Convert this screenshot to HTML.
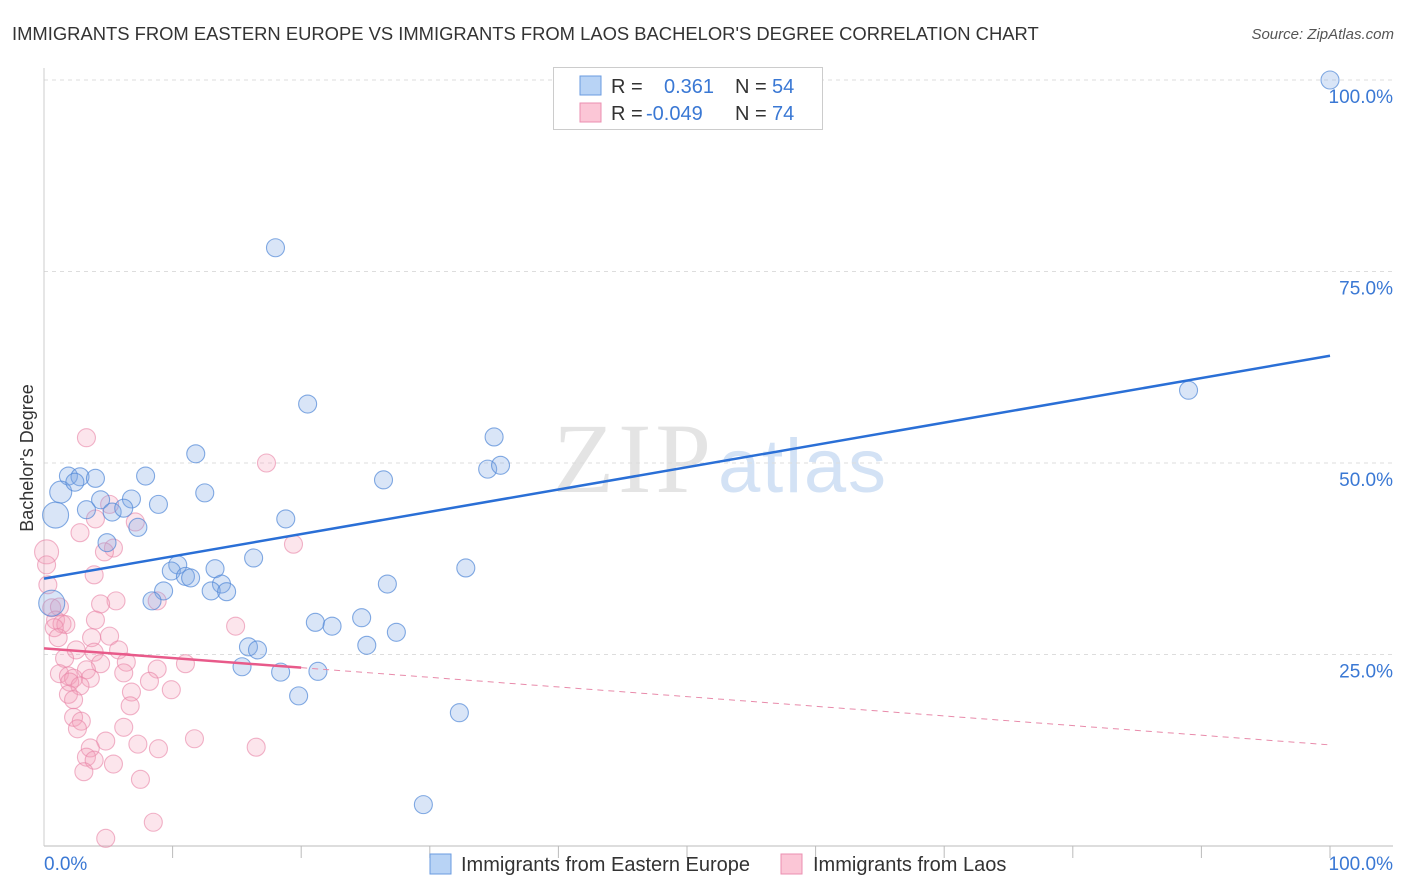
<!DOCTYPE html>
<html><head><meta charset="utf-8"><style>
body{margin:0;background:#fff;font-family:"Liberation Sans",sans-serif;}
#wrap{position:relative;width:1406px;height:892px;overflow:hidden;}
</style></head><body>
<div id="wrap">
<svg id="svg" width="1406" height="892" xmlns="http://www.w3.org/2000/svg">
<text x="12" y="40" font-size="18.4" fill="#333">IMMIGRANTS FROM EASTERN EUROPE VS IMMIGRANTS FROM LAOS BACHELOR'S DEGREE CORRELATION CHART</text>
<text x="1394" y="39" font-size="15" fill="#555" font-style="italic" text-anchor="end">Source: ZipAtlas.com</text>
<text x="33" y="458" font-size="18" fill="#333" text-anchor="middle" transform="rotate(-90 33 458)">Bachelor's Degree</text>
<text x="553" y="492" font-size="100" fill="#e4e4e4" font-family="Liberation Serif" textLength="158">ZIP</text>
<text x="718" y="492" font-size="76" fill="#d3e2f5" textLength="168">atlas</text>
<g id="grid"></g><g id="axes"></g><g id="pts"></g><g id="lines"></g>
<g>
<rect x="553.5" y="67.5" width="269" height="62" fill="#fff" stroke="#ccc"/>
<rect x="580" y="76" width="21" height="19" fill="#b8d3f5" stroke="#6a9be0"/>
<rect x="580" y="103" width="21" height="19" fill="#fbc6d6" stroke="#eb8fb0"/>
<text y="93" font-size="20"><tspan x="611" fill="#333">R =</tspan><tspan x="664" fill="#3a78d4">0.361</tspan><tspan x="735" fill="#333">N =</tspan><tspan x="772" fill="#3a78d4">54</tspan></text>
<text y="120" font-size="20"><tspan x="611" fill="#333">R =</tspan><tspan x="646" fill="#3a78d4">-0.049</tspan><tspan x="735" fill="#333">N =</tspan><tspan x="772" fill="#3a78d4">74</tspan></text>
</g>
<g>
<rect x="430" y="854" width="21" height="20" fill="#b8d3f5" stroke="#6a9be0"/>
<text x="461" y="871" font-size="20" fill="#333">Immigrants from Eastern Europe</text>
<rect x="781" y="854" width="21" height="20" fill="#fbc6d6" stroke="#eb8fb0"/>
<text x="813" y="871" font-size="20" fill="#333">Immigrants from Laos</text>
</g>
</svg>
</div>
<script>
const yTicks=[25,50,75,100];
const yTickLabels=["25.0%","50.0%","75.0%","100.0%"];
const xTickLabels=["0.0%","100.0%"];
const blueX=[100,18.0,20.5,89.0,35.0,34.5,35.5,26.4,11.8,7.9,1.9,2.8,4.0,1.3,2.4,12.5,0.9,4.4,6.8,8.9,3.3,5.3,6.2,7.3,18.8,4.9,16.3,10.4,9.9,13.3,11.0,11.4,32.8,26.7,13.8,9.3,13.0,14.2,8.4,0.6,24.7,21.1,22.4,27.4,25.1,15.9,16.6,15.4,18.4,21.3,19.8,32.3,29.5];
const blueY=[100,78.1,57.7,59.5,53.4,49.2,49.7,47.8,51.2,48.3,48.3,48.2,48.0,46.2,47.5,46.1,43.2,45.2,45.3,44.6,43.9,43.6,44.1,41.6,42.7,39.6,37.6,36.7,35.9,36.2,35.2,35.0,36.3,34.2,34.2,33.3,33.3,33.2,32.0,31.7,29.8,29.2,28.7,27.9,26.2,26.0,25.6,23.4,22.7,22.8,19.6,17.4,5.4];
const blueR=[9,9,9,9,9,9,9,9,9,9,9,9,9,11,9,9,13,9,9,9,9,9,9,9,9,9,9,9,9,9,9,9,9,9,9,9,9,9,9,13,9,9,9,9,9,9,9,9,9,9,9,9,9];
const pinkX=[0.2,0.2,0.3,0.6,1.2,0.9,1.4,1.7,0.8,1.1,3.3,17.3,5.1,7.1,4.0,2.8,5.4,4.7,19.4,3.9,8.8,5.6,4.4,14.9,4.0,5.1,3.7,2.5,3.9,5.8,1.6,6.4,4.4,11.0,8.8,3.3,1.2,1.9,2.3,6.2,3.6,8.2,2.0,2.8,1.9,6.8,9.9,2.3,6.7,2.3,2.9,6.2,2.6,11.7,4.8,3.6,7.3,8.9,16.5,3.3,3.9,5.4,3.1,7.5,8.5,4.8];
const pinkY=[38.4,36.7,34.1,31.1,31.2,29.5,29.0,28.9,28.5,27.2,53.3,50.0,44.6,42.3,42.7,40.9,38.9,38.4,39.4,35.4,32.0,32.0,31.6,28.7,29.5,27.4,27.2,25.6,25.3,25.6,24.5,24.0,23.8,23.8,23.1,23.0,22.5,22.2,21.9,22.6,21.9,21.5,21.4,20.9,19.8,20.1,20.4,19.1,18.3,16.8,16.3,15.5,15.3,14.0,13.7,12.8,13.3,12.7,12.9,11.6,11.2,10.7,9.7,8.7,3.1,1.0];
const blueLine=[34.9,64.0];
const pinkLine=[25.8,13.2];
const pinkSolidEnd=20;
const X0=44,X1=1330,Y0=846,Y100=80;
const sx=v=>X0+(X1-X0)*v/100, sy=v=>Y0-(Y0-Y100)*v/100;
const NS="http://www.w3.org/2000/svg";
function mk(p,t,a){const e=document.createElementNS(NS,t);for(const k in a)e.setAttribute(k,a[k]);p.appendChild(e);return e;}
const grid=document.getElementById('grid'),axes=document.getElementById('axes'),pts=document.getElementById('pts'),lines=document.getElementById('lines');
yTicks.forEach((t,i)=>{
 const g=mk(grid,'line',{x1:X0,x2:1393,y1:sy(t),y2:sy(t),stroke:'#ddd','stroke-dasharray':'4,4'});
 
 
 const tx=mk(axes,'text',{x:1393,y:sy(t)+23,'font-size':19,fill:'#3a78d4','text-anchor':'end'});
 tx.textContent=yTickLabels[i];
 
 
});
const ax=mk(axes,'line',{x1:X0,x2:1393,y1:Y0,y2:Y0,stroke:'#bbb'});


const ay=mk(axes,'line',{x1:X0,x2:X0,y1:68,y2:Y0,stroke:'#ccc'});


for(let i=1;i<=10;i++){const t=mk(axes,'line',{x1:sx(i*10),x2:sx(i*10),y1:Y0,y2:Y0+12,stroke:'#bbb'});
 
 }
const xl0=mk(axes,'text',{x:44,y:870,'font-size':19,fill:'#3a78d4'});xl0.textContent=xTickLabels[0];


const xl1=mk(axes,'text',{x:1393,y:870,'font-size':19,fill:'#3a78d4','text-anchor':'end'});xl1.textContent=xTickLabels[1];


pinkX.forEach((x,i)=>{const c=mk(pts,'circle',{cx:sx(x),cy:sy(pinkY[i]),r:(i<1?12:9),fill:'rgba(245,160,188,0.28)',stroke:'rgba(232,130,165,0.6)','stroke-width':1.1});
 
 });
blueX.forEach((x,i)=>{const c=mk(pts,'circle',{cx:sx(x),cy:sy(blueY[i]),r:blueR[i],fill:'rgba(130,170,230,0.3)',stroke:'rgba(80,135,215,0.7)','stroke-width':1.1});
 
 });
const bl=mk(lines,'line',{x1:sx(0),y1:sy(blueLine[0]),x2:sx(100),y2:sy(blueLine[1]),stroke:'#2a6fd6','stroke-width':2.5});


const pm=pinkLine[0]+(pinkLine[1]-pinkLine[0])*pinkSolidEnd/100;
const pl=mk(lines,'line',{x1:sx(0),y1:sy(pinkLine[0]),x2:sx(pinkSolidEnd),y2:sy(pm),stroke:'#e85a8a','stroke-width':2.5});


const pd=mk(lines,'line',{x1:sx(pinkSolidEnd),y1:sy(pm),x2:sx(100),y2:sy(pinkLine[1]),stroke:'#e88aaa','stroke-width':1,'stroke-dasharray':'6,5'});


</script>
</body></html>
